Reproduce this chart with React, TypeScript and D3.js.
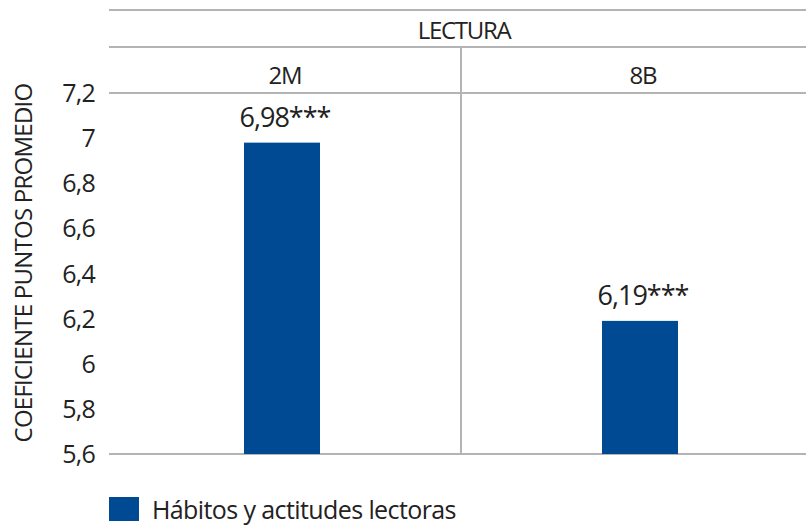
import React from "react";
import * as d3 from "d3";

const categories = ["2M", "8B"];
const values = [6.98, 6.19];
const valueLabels = ["6,98***", "6,19***"];
const yTicks = [5.6, 5.8, 6, 6.2, 6.4, 6.6, 6.8, 7, 7.2];
const groupTitle = "LECTURA";
const seriesName = "Hábitos y actitudes lectoras";
const yTitle = "COEFICIENTE PUNTOS PROMEDIO";

const W = 806, H = 525;
const left = 109, top = 93, bottom = 454;
const BLUE = "#004a93";
const GRID = "#b4b4b4";
const TXT = "#222";
const FONT = "'Open Sans', sans-serif";

export default function App() {
  const x = d3.scaleBand<string>().domain(categories).range([103, 819]).padding(0);
  const y = d3.scaleLinear().domain([5.6, 7.2]).range([bottom, top]);
  const barW = 76;
  const cx = (c: string) => x(c)! + x.bandwidth() / 2;
  const fmt = (v: number) => String(+v.toFixed(1)).replace(".", ",");
  return (
    <svg width={W} height={H} style={{ position: "absolute", left: 0, top: 0, background: "#fff" }} fontFamily={FONT}>
      <line x1={left} x2={W} y1={10} y2={10} stroke={GRID} strokeWidth={2} />
      <line x1={left} x2={W} y1={47} y2={47} stroke={GRID} strokeWidth={2} />
      <line x1={left} x2={W} y1={top} y2={top} stroke={GRID} strokeWidth={2} />
      <line x1={left} x2={W} y1={bottom} y2={bottom} stroke={GRID} strokeWidth={2} />
      {categories.slice(1).map((c) => (
        <line key={c} x1={x(c)!} x2={x(c)!} y1={47} y2={bottom} stroke={GRID} strokeWidth={2} />
      ))}
      <text x={464} y={39} textAnchor="middle" fontSize={24} fill={TXT} letterSpacing={-1.3}>{groupTitle}</text>
      {categories.map((c) => (
        <text key={c} x={cx(c) + 3} y={84} textAnchor="middle" fontSize={24} fill={TXT} letterSpacing={-1.2}>{c}</text>
      ))}
      {categories.map((c, i) => (
        <g key={c}>
          <rect x={cx(c) - barW / 2} y={y(values[i])} width={barW} height={bottom - y(values[i])} fill={BLUE} />
          <text x={cx(c) + 3} y={y(values[i]) - 16} textAnchor="middle" fontSize={27} fill={TXT} letterSpacing={-1}>{valueLabels[i]}</text>
        </g>
      ))}
      {yTicks.map((t) => (
        <text key={t} x={95} y={y(t) + 9} textAnchor="end" fontSize={25} fill={TXT} letterSpacing={-0.8}>{fmt(t)}</text>
      ))}
      <text transform={`translate(32,263) rotate(-90)`} textAnchor="middle" fontSize={24} fill={TXT} letterSpacing={-0.75}>{yTitle}</text>
      <rect x={109} y={497} width={30} height={24} fill={BLUE} />
      <text x={152} y={519} fontSize={25} fill={TXT} letterSpacing={-0.6}>{seriesName}</text>
    </svg>
  );
}
